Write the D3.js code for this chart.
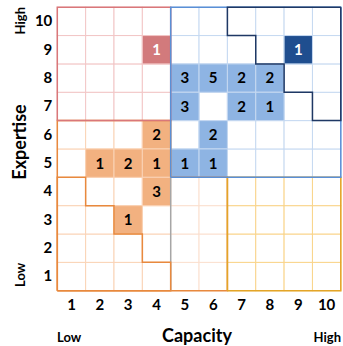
<!DOCTYPE html>
<html lang="en">
<head>
<meta charset="utf-8">
<title>Capacity vs Expertise</title>
<script src="https://cdn.jsdelivr.net/npm/d3@7"></script>
<style>
  body { margin: 0; background: #fff; }
  svg { display: block; font-family: Lato, "Open Sans", sans-serif; }
</style>
</head>
<body>
<script>
// levels on both axes
const levels = [1, 2, 3, 4, 5, 6, 7, 8, 9, 10];

// filled cells
const cellCapacity  = [4, 9, 5, 6, 7, 8, 5, 7, 8, 6, 5, 6, 4, 2, 3, 4, 4, 3];
const cellExpertise = [9, 9, 8, 8, 8, 8, 7, 7, 7, 6, 5, 5, 6, 5, 5, 5, 4, 3];
const cellCount     = [1, 1, 3, 5, 2, 2, 3, 2, 1, 2, 1, 1, 2, 1, 2, 1, 3, 1];
const cellZone      = ["red", "navy", "blue", "blue", "blue", "blue", "blue", "blue", "blue",
                       "blue", "blue", "blue", "orange", "orange", "orange", "orange", "orange", "orange"];

// staircases: first capacity column of the navy zone per expertise row,
// last capacity column of the low zone per expertise row
const navyRows = [10, 9, 8, 7];
const navyFrom = [7, 8, 9, 10];
const lowRows = [4, 3, 2, 1];
const lowTo   = [1, 2, 3, 4];

const w = 343, h = 346;
const gLeft = 57.3, gRight = 340.8, gTop = 7.2, gBottom = 290.7;

const colors = {
  red:    {fill: "#d27a7c", line: "#f2c6c6", edge: "#d9777a", text: "#fff"},
  blue:   {fill: "#8eb4e3", line: "#c6d9f1", edge: "#5a8fd6", text: "#000"},
  navy:   {fill: "#1f4e8f", line: "#c6d9f1", edge: "#1f3864", text: "#fff"},
  orange: {fill: "#f2b180", line: "#fad3b6", edge: "#e8893e", text: "#000"},
  peach:  {fill: "#fff", line: "#fbe0cf", edge: "#e8893e", text: "#000"},
  gold:   {fill: "#fff", line: "#f9d48a", edge: "#e3a528", text: "#000"}
};

function zoneOf(c, e) {
  if (c <= 4 && e >= 7) return "red";
  if (c >= 5 && e >= 5) return "blue";
  if (c >= 7 && e <= 4) return "gold";
  if (c <= 4) return "orange";
  return "peach";
}

const svg = d3.select("body").append("svg")
  .attr("width", w)
  .attr("height", h);

const x = d3.scaleBand().domain(levels).range([gLeft, gRight]);
const y = d3.scaleBand().domain(levels).range([gBottom, gTop]);
// boundaries between cells
const bx = d3.scaleLinear().domain([0, 10]).range([gLeft, gRight]);
const by = d3.scaleLinear().domain([0, 10]).range([gBottom, gTop]);

// background grid
const grid = [];
levels.forEach(function(c) {
  levels.forEach(function(e) { grid.push({c: c, e: e}); });
});

svg.append("g").selectAll("rect")
  .data(grid)
  .enter()
  .append("rect")
  .attr("x", d => x(d.c))
  .attr("y", d => y(d.e))
  .attr("width", x.bandwidth())
  .attr("height", y.bandwidth())
  .attr("fill", "#fff")
  .attr("stroke", d => colors[zoneOf(d.c, d.e)].line)
  .attr("stroke-width", 1);

// filled cells
const cells = cellCount.map(function(n, i) {
  return {c: cellCapacity[i], e: cellExpertise[i], n: n, zone: cellZone[i]};
});

svg.append("g").selectAll("rect")
  .data(cells)
  .enter()
  .append("rect")
  .attr("x", d => x(d.c))
  .attr("y", d => y(d.e))
  .attr("width", x.bandwidth())
  .attr("height", y.bandwidth())
  .attr("fill", d => colors[d.zone].fill)
  .attr("stroke", d => colors[d.zone].line)
  .attr("stroke-width", 1);

// zone outlines
const line = d3.line().x(d => bx(d[0])).y(d => by(d[1]));
const outline = function(pts, color) {
  svg.append("path")
    .attr("d", line(pts))
    .attr("fill", "none")
    .attr("stroke", color)
    .attr("stroke-width", 1.5);
};

outline([[0, 0], [0, 6], [4, 6], [4, 4], [6, 4], [6, 0], [0, 0]], colors.orange.edge);
outline([[4, 0], [4, 4]], "#a6a6a6");
outline([[0, 6], [0, 10], [4, 10], [4, 6], [0, 6]], colors.red.edge);
outline([[6, 0], [6, 4], [10, 4], [10, 0], [6, 0]], colors.gold.edge);
outline([[4, 4], [4, 10], [10, 10], [10, 4], [4, 4]], colors.blue.edge);

// navy staircase
const navyPts = [[10, 10], [navyFrom[0] - 1, 10]];
navyRows.forEach(function(r, i) {
  navyPts.push([navyFrom[i] - 1, r - 1]);
  if (i < navyRows.length - 1) navyPts.push([navyFrom[i + 1] - 1, r - 1]);
});
navyPts.push([10, navyRows[navyRows.length - 1] - 1], [10, 10]);
outline(navyPts, colors.navy.edge);

// low staircase
const lowPts = [[0, 0], [0, lowRows[0]]];
lowRows.forEach(function(r, i) {
  lowPts.push([lowTo[i], r]);
  lowPts.push([lowTo[i], r - 1]);
});
lowPts.push([0, 0]);
outline(lowPts, colors.orange.edge);

// counts
svg.append("g").selectAll("text")
  .data(cells)
  .enter()
  .append("text")
  .attr("x", d => x(d.c) + x.bandwidth() / 2)
  .attr("y", d => y(d.e) + y.bandwidth() / 2)
  .attr("dy", "0.36em")
  .attr("text-anchor", "middle")
  .attr("font-size", "15px")
  .attr("font-weight", "bold")
  .attr("fill", d => colors[d.zone].text)
  .text(d => d.n);

// axes
const xAxis = svg.append("g")
  .attr("transform", "translate(0," + gBottom + ")")
  .call(d3.axisBottom(x).tickSize(0).tickPadding(9));
const yAxis = svg.append("g")
  .attr("transform", "translate(" + gLeft + ",0)")
  .call(d3.axisLeft(y).tickSize(0).tickPadding(5));

[xAxis, yAxis].forEach(function(a) {
  a.select(".domain").remove();
  a.selectAll("text")
    .attr("font-family", "Lato, sans-serif")
    .attr("font-size", "15px")
    .attr("font-weight", "bold")
    .attr("fill", "#000");
});

// axis titles
svg.append("text")
  .attr("x", 197)
  .attr("y", 342)
  .attr("text-anchor", "middle")
  .attr("font-size", "18px")
  .attr("font-weight", "bold")
  .text("Capacity");

svg.append("text")
  .attr("x", 57)
  .attr("y", 342)
  .attr("font-size", "13px")
  .attr("font-weight", "bold")
  .text("Low");

svg.append("text")
  .attr("x", 341)
  .attr("y", 342)
  .attr("text-anchor", "end")
  .attr("font-size", "13px")
  .attr("font-weight", "bold")
  .text("High");

svg.append("text")
  .attr("transform", "translate(26,142) rotate(-90)")
  .attr("text-anchor", "middle")
  .attr("font-size", "18px")
  .attr("font-weight", "bold")
  .text("Expertise");

svg.append("text")
  .attr("transform", "translate(25,7) rotate(-90)")
  .attr("text-anchor", "end")
  .attr("font-size", "13px")
  .attr("font-weight", "bold")
  .text("High");

svg.append("text")
  .attr("transform", "translate(25,287) rotate(-90)")
  .attr("font-size", "13px")
  .attr("font-weight", "bold")
  .text("Low");
</script>
</body>
</html>
